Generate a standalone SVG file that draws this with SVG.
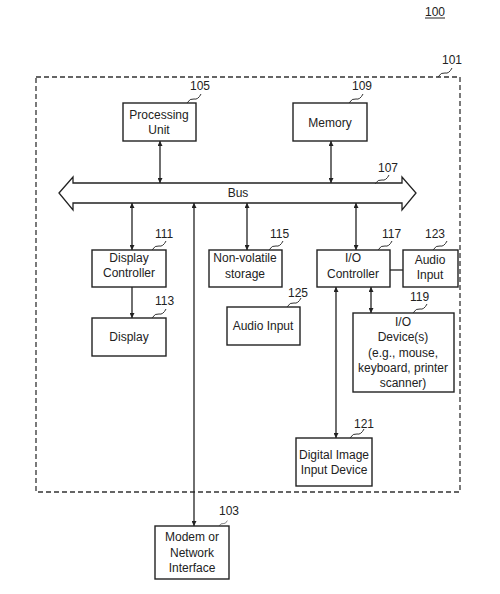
<svg xmlns="http://www.w3.org/2000/svg" width="500" height="594" viewBox="0 0 500 594">
<defs>
<style>
.box{fill:#fff;stroke:#222;stroke-width:1.4}
.t{font-family:"Liberation Sans",Arial,sans-serif;font-size:12px;fill:#222;text-anchor:middle}
.n{font-family:"Liberation Sans",Arial,sans-serif;font-size:12px;fill:#222}
.sq{fill:none;stroke:#333;stroke-width:1}
.c{fill:none;stroke:#222;stroke-width:1.3}
</style>
<marker id="ah" viewBox="0 0 8 8" refX="8" refY="4" markerWidth="5" markerHeight="5" orient="auto-start-reverse" markerUnits="userSpaceOnUse">
<path d="M0,0 L8,4 L0,8 z" fill="#222"/>
</marker>
<path id="sw" d="M0,0 q3,-5 7,-4 t7,-5"/>
</defs>
<rect width="500" height="594" fill="#fff"/>

<g id="label100">
<text class="n" x="425" y="16">100</text>
<line x1="425" y1="18" x2="445" y2="18" stroke="#222" stroke-width="1"/>
</g>

<g id="system101">
<rect x="36" y="77" width="424" height="415" fill="none" stroke="#333" stroke-width="1.3" stroke-dasharray="5,3"/>
<text class="n" x="442" y="64">101</text>
<use href="#sw" class="sq" x="438" y="77"/>
</g>

<g id="connectors">
<line class="c" x1="160" y1="141" x2="160" y2="183" marker-start="url(#ah)" marker-end="url(#ah)"/>
<line class="c" x1="331" y1="141" x2="331" y2="183" marker-start="url(#ah)" marker-end="url(#ah)"/>
<line class="c" x1="132" y1="203" x2="132" y2="250" marker-start="url(#ah)" marker-end="url(#ah)"/>
<line class="c" x1="247" y1="203" x2="247" y2="250" marker-start="url(#ah)" marker-end="url(#ah)"/>
<line class="c" x1="356" y1="203" x2="356" y2="250" marker-start="url(#ah)" marker-end="url(#ah)"/>
<line class="c" x1="194" y1="203" x2="194" y2="526" marker-start="url(#ah)" marker-end="url(#ah)"/>
<line class="c" x1="132" y1="287" x2="132" y2="318" marker-end="url(#ah)"/>
<line class="c" x1="371" y1="287" x2="371" y2="313" stroke-width="1.8" marker-start="url(#ah)" marker-end="url(#ah)"/>
<line class="c" x1="336" y1="287" x2="336" y2="438" marker-start="url(#ah)" marker-end="url(#ah)"/>
<line class="c" x1="390" y1="270" x2="403" y2="270" stroke-width="1.8"/>
</g>

<g id="bus107">
<polygon points="59,193 73,177 73,183 402,183 402,177 416,193 402,210 402,203 73,203 73,210" fill="#fff" stroke="#222" stroke-width="1.3"/>
<text class="t" x="238" y="197">Bus</text>
<text class="n" x="378" y="172">107</text>
<use href="#sw" class="sq" x="375" y="184" transform="scale(1)"/>
</g>

<g id="processing105">
<rect class="box" x="123" y="103" width="73" height="38"/>
<text class="t" x="159" y="119">Processing</text>
<text class="t" x="159" y="134">Unit</text>
<text class="n" x="190" y="90">105</text>
<use href="#sw" class="sq" x="187" y="103"/>
</g>

<g id="memory109">
<rect class="box" x="293" y="103" width="74" height="38"/>
<text class="t" x="330" y="127">Memory</text>
<text class="n" x="352" y="90">109</text>
<use href="#sw" class="sq" x="349" y="103"/>
</g>

<g id="displayctrl111">
<rect class="box" x="92" y="250" width="74" height="37"/>
<text class="t" x="129" y="262">Display</text>
<text class="t" x="129" y="277">Controller</text>
<text class="n" x="155" y="238">111</text>
<use href="#sw" class="sq" x="152" y="250"/>
</g>

<g id="display113">
<rect class="box" x="92" y="318" width="74" height="38"/>
<text class="t" x="129" y="341">Display</text>
<text class="n" x="155" y="305">113</text>
<use href="#sw" class="sq" x="152" y="318"/>
</g>

<g id="nvstorage115">
<rect class="box" x="209" y="250" width="73" height="37"/>
<text class="t" x="245" y="262">Non-volatile</text>
<text class="t" x="245" y="278">storage</text>
<text class="n" x="270" y="238">115</text>
<use href="#sw" class="sq" x="269" y="250"/>
</g>

<g id="audio125">
<rect class="box" x="227" y="307" width="73" height="38"/>
<text class="t" x="263" y="330">Audio Input</text>
<text class="n" x="288" y="297">125</text>
<use href="#sw" class="sq" x="287" y="307"/>
</g>

<g id="ioctrl117">
<rect class="box" x="317" y="250" width="73" height="37"/>
<text class="t" x="353" y="262">I/O</text>
<text class="t" x="353" y="278">Controller</text>
<text class="n" x="382" y="238">117</text>
<use href="#sw" class="sq" x="378" y="250"/>
</g>

<g id="audio123">
<rect class="box" x="403" y="250" width="55" height="37"/>
<text class="t" x="430" y="264">Audio</text>
<text class="t" x="430" y="279">Input</text>
<text class="n" x="425" y="238">123</text>
<use href="#sw" class="sq" x="433" y="250"/>
</g>

<g id="iodevices119">
<rect class="box" x="353" y="313" width="101" height="79"/>
<text class="t" x="403" y="326">I/O</text>
<text class="t" x="403" y="341">Device(s)</text>
<text class="t" x="403" y="357">(e.g., mouse,</text>
<text class="t" x="403" y="372">keyboard, printer</text>
<text class="t" x="403" y="387">scanner)</text>
<text class="n" x="410" y="301">119</text>
<use href="#sw" class="sq" x="413" y="313"/>
</g>

<g id="digitalimage121">
<rect class="box" x="296" y="438" width="76" height="48"/>
<text class="t" x="334" y="459">Digital Image</text>
<text class="t" x="334" y="474">Input Device</text>
<text class="n" x="354" y="428">121</text>
<use href="#sw" class="sq" x="350" y="438"/>
</g>

<g id="modem103">
<rect class="box" x="155" y="526" width="74" height="53"/>
<text class="t" x="192" y="541">Modem or</text>
<text class="t" x="192" y="557">Network</text>
<text class="t" x="192" y="572">Interface</text>
<text class="n" x="219" y="515">103</text>
<use href="#sw" class="sq" x="219" y="526" transform="translate(219 526) scale(0.6) translate(-219 -526)"/>
</g>
</svg>
